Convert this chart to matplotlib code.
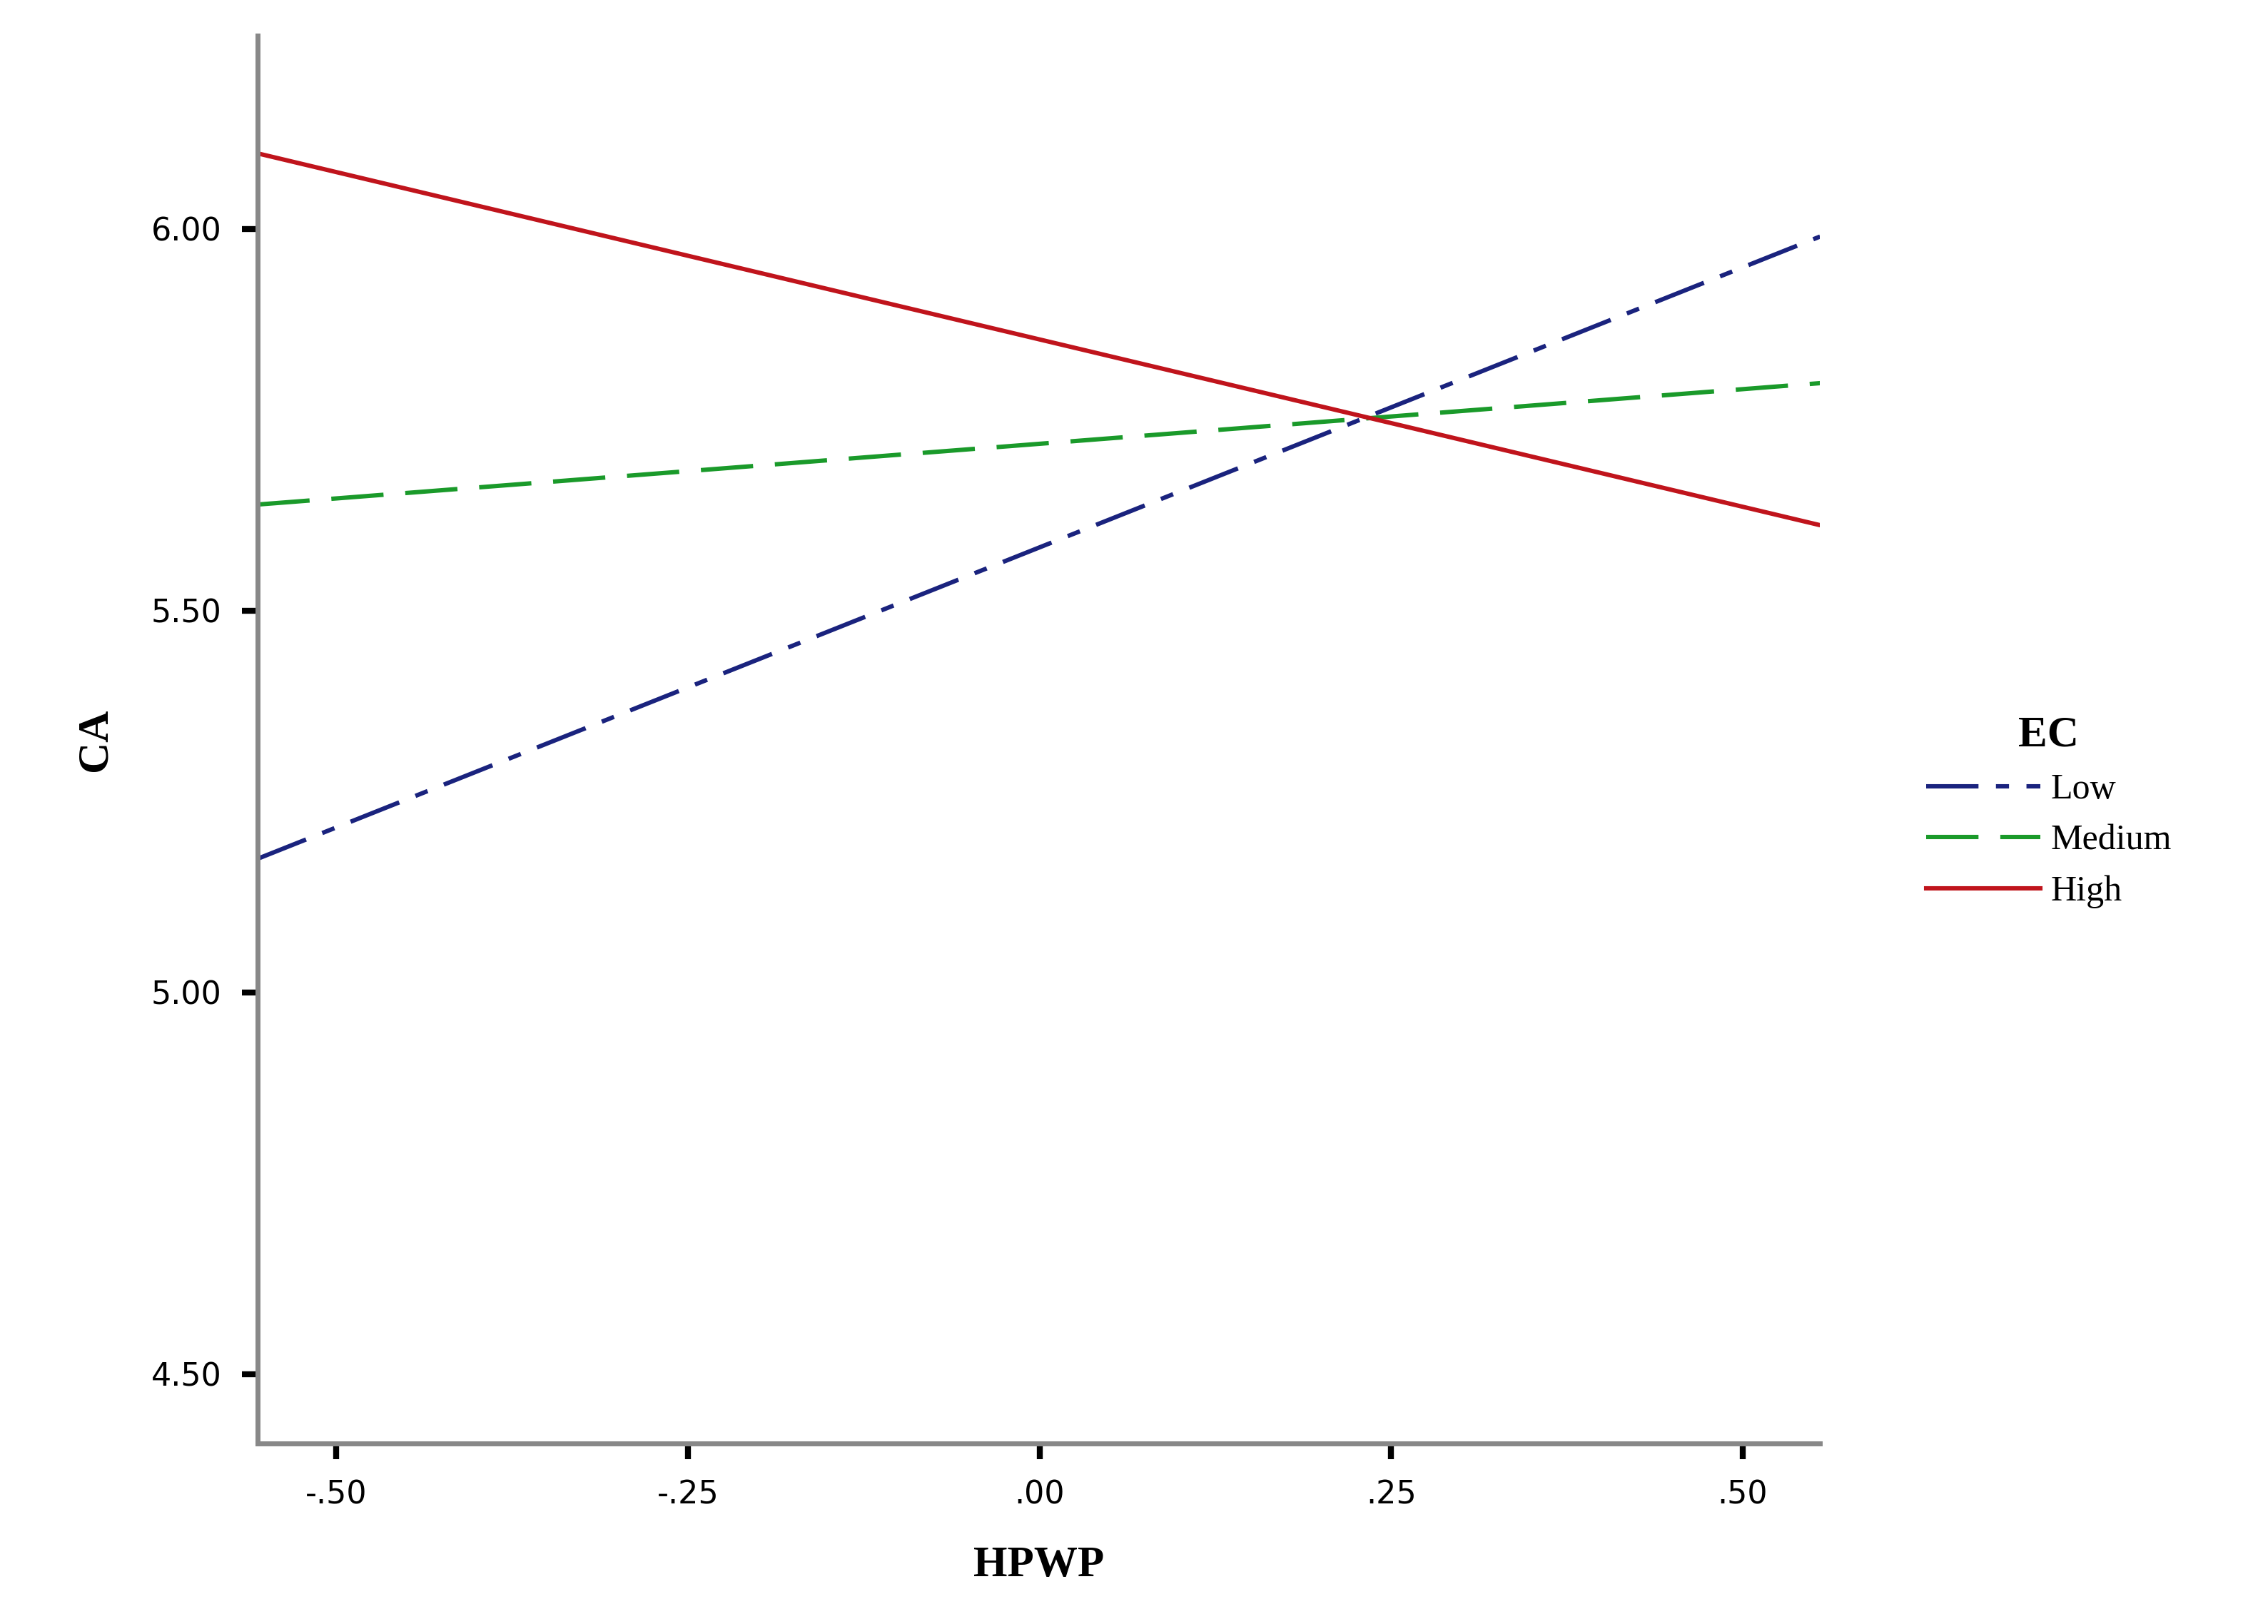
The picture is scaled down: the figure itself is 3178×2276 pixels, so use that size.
import matplotlib
matplotlib.use("Agg")
import matplotlib.pyplot as plt

x_ends = [-0.556, 0.555]
low = [5.175, 5.99]
medium = [5.639, 5.798]
high = [6.099, 5.612]
xticks = [-0.5, -0.25, 0.0, 0.25, 0.5]
xticklabels = ["-.50", "-.25", ".00", ".25", ".50"]
yticks = [4.5, 5.0, 5.5, 6.0]
yticklabels = ["4.50", "5.00", "5.50", "6.00"]

fig = plt.figure(figsize=(15.89, 11.38), dpi=200)
ax = fig.add_axes([0.1135, 0.111, 0.689, 0.867])
ax.plot(x_ends, low, color="#1a237e", lw=2.2, dashes=(12, 4, 3, 4), label="Low")
ax.plot(x_ends, medium, color="#1a9a2a", lw=2.2, dashes=(12, 5), label="Medium")
ax.plot(x_ends, high, color="#c0141c", lw=2.2, label="High")
ax.set_xlim(-0.556, 0.555)
ax.set_ylim(4.409, 6.253)
ax.set_xticks(xticks)
ax.set_xticklabels(xticklabels)
ax.set_yticks(yticks)
ax.set_yticklabels(yticklabels)
for s in ["top", "right"]:
    ax.spines[s].set_visible(False)
for s in ["left", "bottom"]:
    ax.spines[s].set_color("#888888")
    ax.spines[s].set_linewidth(2.5)
ax.tick_params(length=8, width=3, color="black", labelsize=16, pad=10)
ax.set_xlabel("HPWP", fontsize=22, fontweight="bold", family="Liberation Serif", labelpad=18)
ax.set_ylabel("CA", fontsize=22, fontweight="bold", family="Liberation Serif", labelpad=18)
leg = fig.legend(loc="center left", bbox_to_anchor=(0.835, 0.5), frameon=False,
                 prop={"family": "Liberation Serif", "size": 18}, handlelength=3.2,
                 handletextpad=0.3, title="EC")
leg.get_title().set_fontweight("bold")
leg.get_title().set_fontsize(22)
leg.get_title().set_family("Liberation Serif")
fig.savefig("out.png", dpi=200)
